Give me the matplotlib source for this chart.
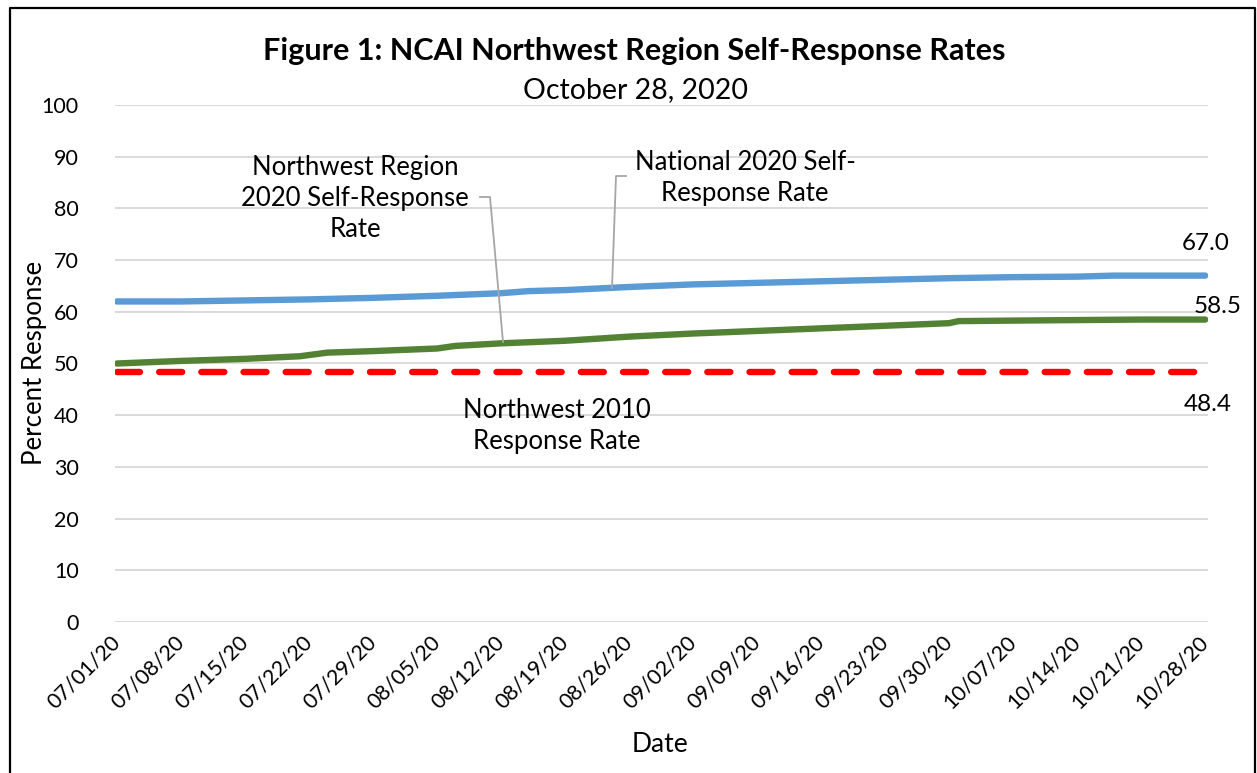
import matplotlib
matplotlib.use("Agg")
import matplotlib.pyplot as plt
import matplotlib.dates as mdates
import pandas as pd
from matplotlib.lines import Line2D

plt.rcParams['font.family'] = ['Lato', 'DejaVu Sans']

# ---- data ----
national_dates = ["2020-07-01", "2020-07-08", "2020-07-15", "2020-07-22", "2020-07-29",
                  "2020-08-05", "2020-08-12", "2020-08-15", "2020-08-19", "2020-08-26",
                  "2020-09-02", "2020-09-09", "2020-09-16", "2020-09-23", "2020-09-30",
                  "2020-10-07", "2020-10-14", "2020-10-18", "2020-10-21", "2020-10-28"]
national_rate = [62.0, 62.0, 62.2, 62.4, 62.7,
                 63.1, 63.6, 64.0, 64.2, 64.8,
                 65.3, 65.6, 65.9, 66.2, 66.5,
                 66.7, 66.8, 67.0, 67.0, 67.0]

northwest_dates = ["2020-07-01", "2020-07-08", "2020-07-15", "2020-07-21", "2020-07-24",
                   "2020-07-29", "2020-08-05", "2020-08-07", "2020-08-12", "2020-08-19",
                   "2020-08-26", "2020-09-02", "2020-09-09", "2020-09-16", "2020-09-23",
                   "2020-09-30", "2020-10-01", "2020-10-07", "2020-10-14", "2020-10-21",
                   "2020-10-28"]
northwest_rate = [50.0, 50.5, 50.9, 51.4, 52.1,
                  52.4, 52.9, 53.4, 53.9, 54.4,
                  55.2, 55.8, 56.3, 56.8, 57.3,
                  57.8, 58.2, 58.3, 58.4, 58.5,
                  58.5]

nw2010_rate = 48.4
tick_dates = pd.date_range("2020-07-01", "2020-10-28", freq="7D")

title = "Figure 1: NCAI Northwest Region Self-Response Rates"
subtitle = "October 28, 2020"

# ---- figure ----
W, H = 1257, 773
fig = plt.figure(figsize=(W / 100, H / 100), dpi=100)

def fx(px):
    return px / W

def fy(py):
    return 1 - py / H

ax_l, ax_r, ax_t, ax_b = 115, 1208, 105, 622
ax = fig.add_axes([fx(ax_l), fy(ax_b), fx(ax_r - ax_l), (ax_b - ax_t) / H])

nd = pd.to_datetime(national_dates)
wd = pd.to_datetime(northwest_dates)
start, end = pd.Timestamp("2020-07-01"), pd.Timestamp("2020-10-28")

ax.plot(nd, national_rate, color="#5B9BD5", lw=4.6, solid_capstyle="round", zorder=3)
ax.plot(wd, northwest_rate, color="#548235", lw=4.6, solid_capstyle="round", zorder=3)
ax.plot([start, end], [nw2010_rate, nw2010_rate], color="#FF0000", lw=4.6,
        dashes=(3.6, 3.0), dash_capstyle="round", zorder=3)

ax.set_ylim(0, 100)
ax.set_yticks(range(0, 101, 10))
ax.set_xlim(start - pd.Timedelta(hours=5), end + pd.Timedelta(hours=7))
ax.set_xticks(tick_dates)
ax.xaxis.set_major_formatter(mdates.DateFormatter("%m/%d/%y"))
ax.grid(axis="y", color="#D9D9D9", lw=1.4, zorder=0)
for s in ax.spines.values():
    s.set_visible(False)
ax.tick_params(axis="both", length=0, labelsize=15.5, colors="black")
ax.tick_params(axis="y", pad=26)
ax.tick_params(axis="x", pad=12)
for lab in ax.get_xticklabels():
    lab.set_rotation(45)
    lab.set_ha("right")
    lab.set_va("center")
    lab.set_rotation_mode("anchor")

fig.text(fx(35), fy(363), "Percent Response", fontsize=18.5, rotation=90,
         ha="center", va="center")
fig.text(fx(660), fy(745), "Date", fontsize=19, ha="center", va="center")

# titles
fig.text(fx(634), fy(51), title, fontsize=22, fontweight="bold", ha="center", va="center")
fig.text(fx(635), fy(90), subtitle, fontsize=20.5, ha="center", va="center")

# data labels
ax.text(end, 67.0 + 6.3, "67.0", fontsize=17.5, ha="center", va="center")
ax.text(end + pd.Timedelta(days=1.4), 58.5 + 2.6, "58.5", fontsize=17.5, ha="center",
        va="center", zorder=4)
ax.text(end + pd.Timedelta(days=0.3), 48.4 - 6.3, "48.4", fontsize=17.5, ha="center", va="center")

# annotations
fig.text(fx(355), fy(198), "Northwest Region\n2020 Self-Response\nRate", fontsize=18.5,
         ha="center", va="center", linespacing=1.3)
fig.text(fx(745), fy(178), "National 2020 Self-\nResponse Rate", fontsize=18.5,
         ha="center", va="center", linespacing=1.3)
fig.text(fx(557), fy(426), "Northwest 2010\nResponse Rate", fontsize=18.5,
         ha="center", va="center", linespacing=1.3)

# leader lines (figure pixels)
fig.add_artist(Line2D([fx(480), fx(490), fx(503)], [fy(197), fy(197), fy(342)],
                      color="#A6A6A6", lw=1.3))
fig.add_artist(Line2D([fx(626), fx(616), fx(612)], [fy(176), fy(176), fy(288)],
                      color="#A6A6A6", lw=1.3))

# outer border
fig.add_artist(Line2D([fx(10), fx(10), fx(1255), fx(1255)], [fy(773), fy(8), fy(8), fy(773)],
                      color="black", lw=1.6))

fig.savefig("out.png", dpi=100)
